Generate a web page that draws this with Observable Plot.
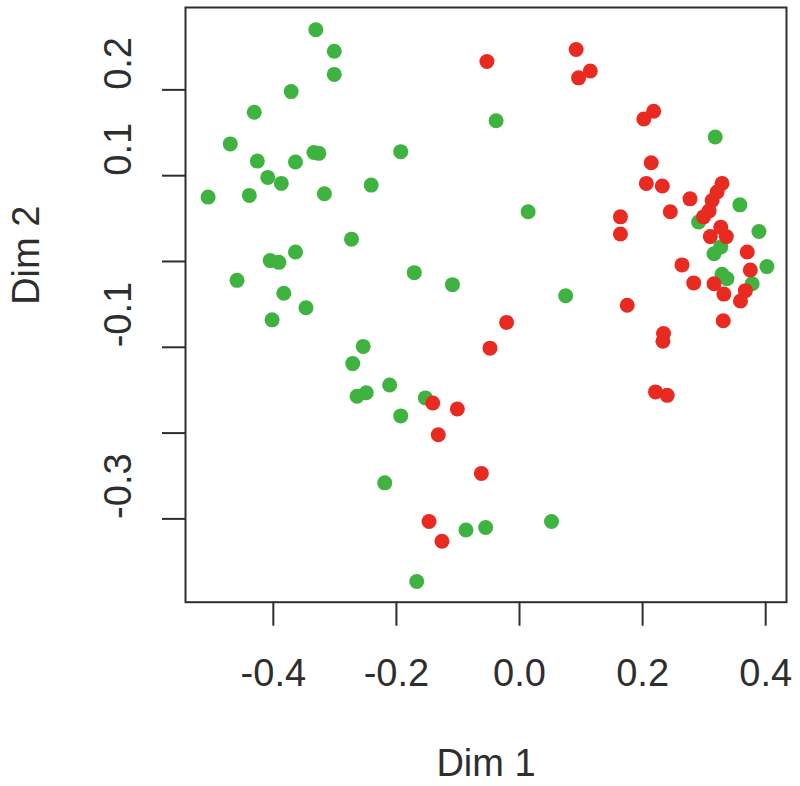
<!DOCTYPE html>
<html>
<head>
<meta charset="utf-8">
<script src="https://cdn.jsdelivr.net/npm/d3@7"></script>
<script src="https://cdn.jsdelivr.net/npm/@observablehq/plot@0.6"></script>
<style>
  html, body { margin: 0; padding: 0; background: #ffffff; }
  #chart svg { display: block; }
</style>
</head>
<body>
<div id="chart"></div>
<script>
// Group A (green) — Dim 1 / Dim 2 coordinates
const greenDim1 = [-0.331,-0.301,-0.301,-0.371,-0.431,-0.470,-0.426,-0.364,-0.334,-0.326,-0.193,-0.409,-0.387,-0.506,-0.439,-0.317,-0.241,-0.273,-0.364,-0.405,-0.391,-0.459,-0.383,-0.171,-0.109,-0.402,-0.347,-0.254,-0.271,-0.264,-0.249,-0.211,-0.153,-0.193,-0.219,-0.087,-0.055,-0.167,0.052,-0.038,0.014,0.075,0.318,0.358,0.389,0.402,0.291,0.316,0.327,0.329,0.337,0.378];
const greenDim2 = [0.270,0.245,0.218,0.198,0.174,0.137,0.117,0.116,0.127,0.126,0.128,0.098,0.091,0.075,0.077,0.079,0.089,0.026,0.011,0.001,-0.001,-0.022,-0.037,-0.013,-0.027,-0.068,-0.054,-0.099,-0.119,-0.157,-0.153,-0.144,-0.159,-0.180,-0.258,-0.313,-0.310,-0.373,-0.303,0.164,0.058,-0.040,0.145,0.066,0.035,-0.006,0.046,0.009,0.017,-0.015,-0.020,-0.026];
// Group B (red)
const redDim1 = [-0.053,0.092,0.096,0.115,0.202,0.218,0.214,0.206,0.232,0.277,0.245,0.164,0.164,0.329,0.321,0.313,0.308,0.299,0.327,0.310,0.336,0.370,0.375,0.264,0.283,0.316,0.332,0.367,0.359,0.175,0.331,0.234,0.233,0.221,0.240,-0.021,-0.048,-0.062,-0.141,-0.101,-0.132,-0.147,-0.126];
const redDim2 = [0.233,0.247,0.214,0.222,0.166,0.175,0.115,0.091,0.088,0.073,0.058,0.052,0.032,0.091,0.081,0.071,0.059,0.052,0.040,0.029,0.029,0.011,-0.010,-0.004,-0.025,-0.026,-0.038,-0.034,-0.046,-0.051,-0.069,-0.084,-0.093,-0.152,-0.156,-0.071,-0.101,-0.247,-0.165,-0.172,-0.202,-0.303,-0.326];

const groups = ["A", "B"];
const xTicks = [-0.4, -0.2, 0.0, 0.2, 0.4];
const xTickLabels = ["-0.4", "-0.2", "0.0", "0.2", "0.4"];
const yTicks = [0.2, 0.1, 0.0, -0.1, -0.2, -0.3];
const yLabelTicks = [0.2, 0.1, -0.1, -0.3];
const yTickLabels = ["0.2", "0.1", "-0.1", "-0.3"];
const xTitle = "Dim 1";
const yTitle = "Dim 2";

const points = [
  ...greenDim1.map((d, i) => ({dim1: d, dim2: greenDim2[i], group: groups[0]})),
  ...redDim1.map((d, i) => ({dim1: d, dim2: redDim2[i], group: groups[1]}))
];

const axisColor = "#2e2e2e";
const font = "Liberation Sans, Arial, Helvetica, sans-serif";

const chart = Plot.plot({
  width: 800,
  height: 786,
  marginLeft: 185,
  marginRight: 14,
  marginTop: 7,
  marginBottom: 184.3,
  style: {fontFamily: font, background: "#ffffff", color: axisColor},
  x: {domain: [-0.5427, 0.4338]},
  y: {domain: [-0.3971, 0.2960]},
  color: {domain: groups, range: ["#3fb33f", "#e82a20"]},
  marks: [
    Plot.dot(points, {x: "dim1", y: "dim2", fill: "group", r: 7.5, stroke: null}),
    Plot.frame({stroke: axisColor, strokeWidth: 2}),
    Plot.axisX({ticks: xTicks, tickSize: 24, tickFormat: () => "", label: null, stroke: axisColor, strokeWidth: 2}),
    Plot.axisY({ticks: yTicks, tickSize: 23, tickFormat: () => "", label: null, stroke: axisColor, strokeWidth: 2}),
    Plot.text(xTicks, {x: d => d, text: (d, i) => xTickLabels[i], frameAnchor: "bottom", dy: 57, lineAnchor: "top", fontSize: 38, fill: axisColor}),
    Plot.text(yLabelTicks, {y: d => d, text: (d, i) => yTickLabels[i], frameAnchor: "left", dx: -55, rotate: -90, lineAnchor: "bottom", fontSize: 38, fill: axisColor}),
    Plot.text([xTitle], {text: d => d, frameAnchor: "bottom", dy: 174, lineAnchor: "bottom", fontSize: 38, fill: axisColor}),
    Plot.text([yTitle], {text: d => d, frameAnchor: "left", dx: -147, rotate: -90, lineAnchor: "bottom", fontSize: 38, fill: axisColor})
  ]
});

document.getElementById("chart").appendChild(chart);
</script>
</body>
</html>
